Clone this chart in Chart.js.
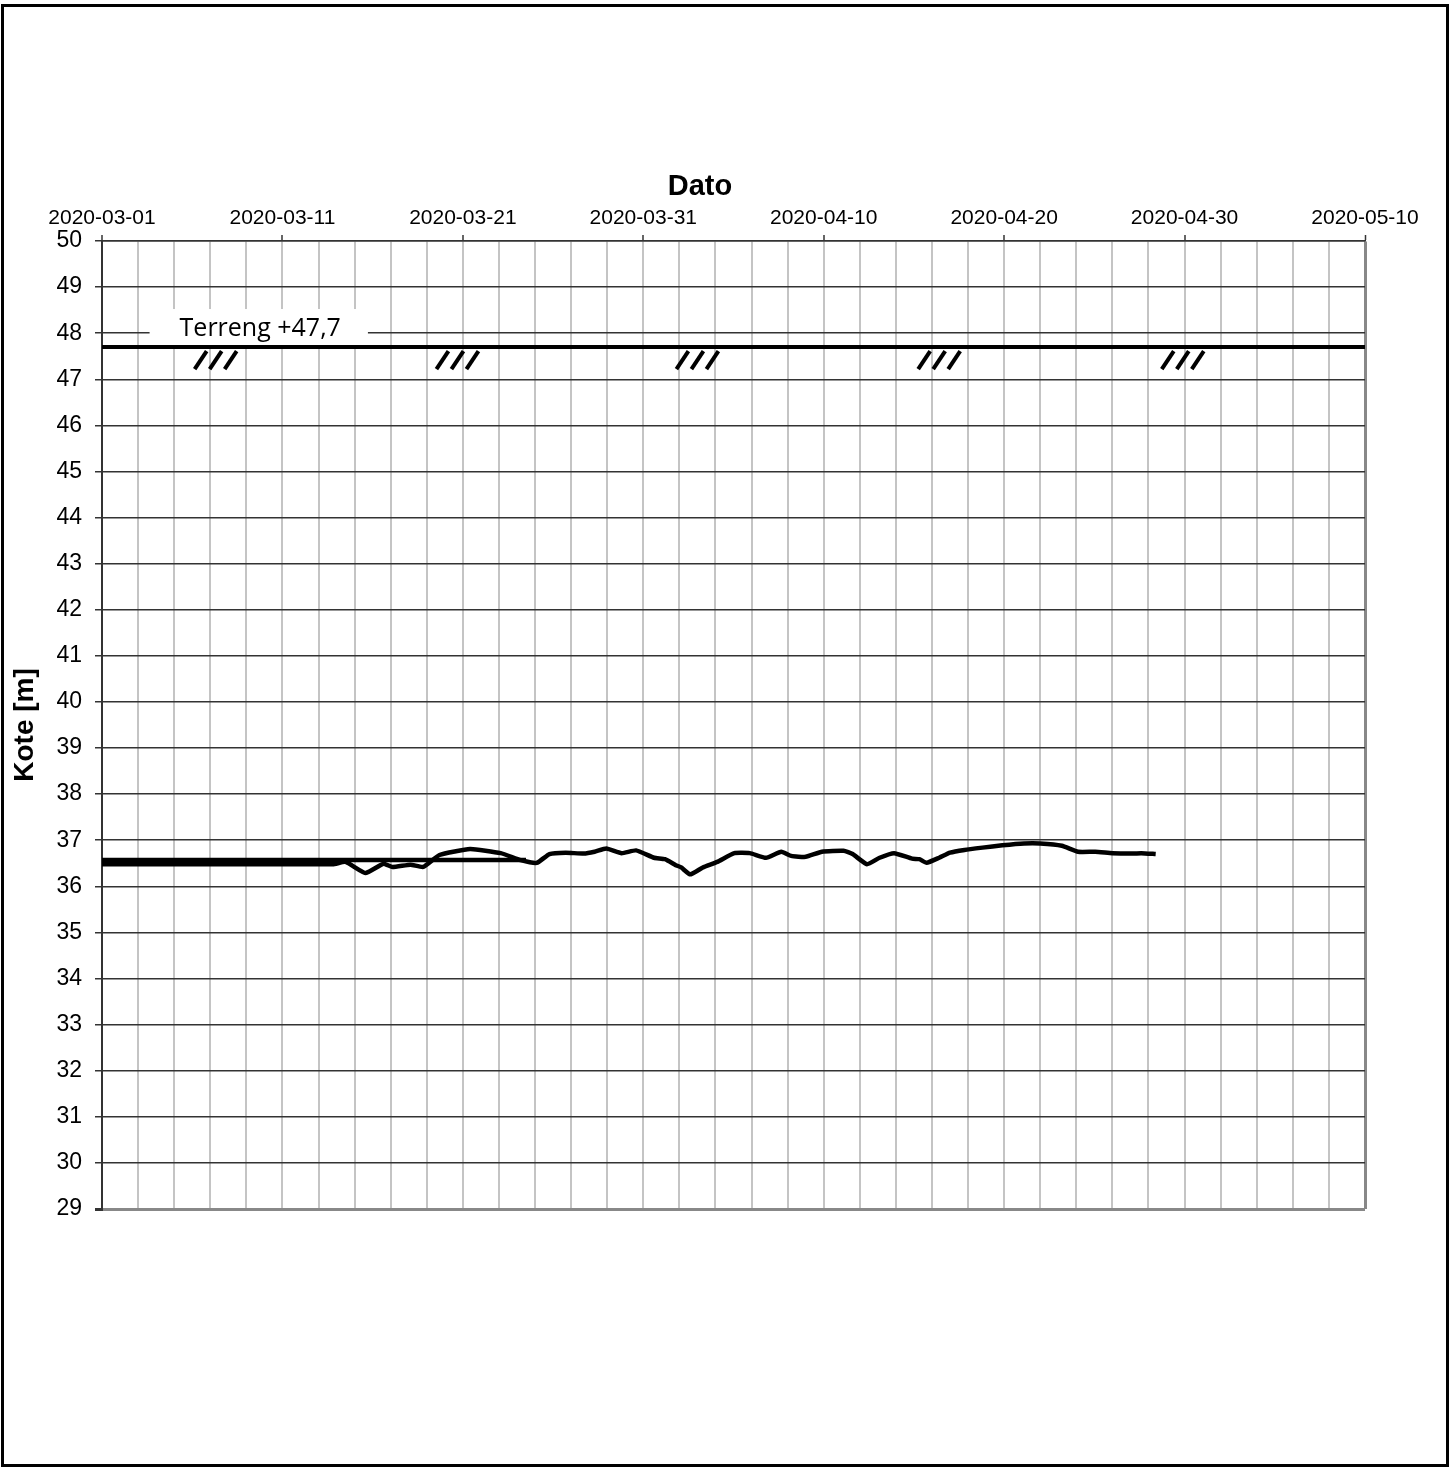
<!DOCTYPE html>
<html lang="no">

<head>
    <meta charset="UTF-8">
    <meta name="viewport" content="width=device-width, initial-scale=1.0">
    <title>Kote</title>
    <script src="https://cdn.jsdelivr.net/npm/chart.js"></script>
    <style>
        body {
            margin: 0;
            background: #fff;
        }

        .wrapper {
            position: relative;
            width: 1450px;
            height: 1468px;
        }

        .frame {
            position: absolute;
            left: 1px;
            top: 4px;
            width: 1448px;
            height: 1463px;
            box-sizing: border-box;
            border: 3px solid #000;
            pointer-events: none;
        }
    </style>
</head>

<body>
    <div class="wrapper">
        <canvas id="koteChart"></canvas>
        <div class="frame"></div>
    </div>

    <script>
        // dager regnet fra 2020-03-01
        const startDate = Date.UTC(2020, 2, 1);
        const xMin = 0;
        const xMax = 70;
        const yMin = 29;
        const yMax = 50;

        const terrainLevel = 47.7;
        const terrainLabel = 'Terreng +47,7';
        const terrainDays = [0, 70];
        const hatchDays = [6.3, 19.7, 33.0, 46.4, 59.9];

        const flatDays = [0, 23.5];
        const flatValues = [36.57, 36.57];

        const measDays = [
            0, 12.8, 13.5, 14.6, 15.6, 16.1, 17.1, 17.8, 18.7, 20.4,
            22.1, 23.2, 24.1, 24.8, 25.7, 26.7, 27.3, 27.95, 28.8, 29.6,
            30.6, 31.2, 31.8, 32.1, 32.6, 33.3, 34.1, 35.05, 35.9, 36.8,
            37.65, 38.2, 39.0, 39.9, 41.1, 41.6, 42.4, 43.1, 43.9, 44.9,
            45.3, 45.7, 46.4, 47.0, 47.8, 48.8, 49.9, 51.1, 52.0, 53.2,
            54.1, 55.05, 56.0, 56.9, 57.6, 58.4
        ];
        const measValues = [
            36.48, 36.48, 36.53, 36.29, 36.49, 36.42, 36.47, 36.42, 36.68, 36.81,
            36.72, 36.57, 36.51, 36.70, 36.73, 36.71, 36.75, 36.82, 36.72, 36.78,
            36.62, 36.59, 36.46, 36.41, 36.26, 36.41, 36.53, 36.72, 36.72, 36.62,
            36.75, 36.66, 36.64, 36.75, 36.77, 36.70, 36.48, 36.62, 36.72, 36.60,
            36.59, 36.51, 36.62, 36.73, 36.79, 36.84, 36.89, 36.93, 36.93, 36.88,
            36.75, 36.75, 36.72, 36.71, 36.72, 36.70
        ];

        function dayLabel(d) {
            return new Date(startDate + d * 86400000).toISOString().slice(0, 10);
        }

        function toPoints(xs, ys) {
            return xs.map((x, i) => ({ x: x, y: ys[i] }));
        }

        const annotationPlugin = {
            id: 'terreng',
            beforeDatasetsDraw(chart) {
                const { ctx, scales } = chart;
                const x0 = scales.x.getPixelForValue(4.3);
                const yT = scales.y.getPixelForValue(terrainLevel);
                ctx.save();
                ctx.font = '25px "Open Sans"';
                const w = ctx.measureText(terrainLabel).width;
                ctx.fillStyle = '#fff';
                ctx.fillRect(x0 - 30, yT - 38, w + 57, 36);
                ctx.fillStyle = '#000';
                ctx.textBaseline = 'alphabetic';
                ctx.fillText(terrainLabel, x0, yT - 11);
                ctx.restore();
            },
            afterDatasetsDraw(chart) {
                const { ctx, scales } = chart;
                const yT = scales.y.getPixelForValue(terrainLevel);
                ctx.save();
                ctx.strokeStyle = '#000';
                ctx.lineWidth = 4;
                hatchDays.forEach(d => {
                    const cx = scales.x.getPixelForValue(d);
                    for (let i = 0; i < 3; i++) {
                        ctx.beginPath();
                        ctx.moveTo(cx - 21 + 15 * i, yT + 22);
                        ctx.lineTo(cx - 9 + 15 * i, yT + 4);
                        ctx.stroke();
                    }
                });
                ctx.restore();
            },
            afterDraw(chart) {
                const { ctx } = chart;
                ctx.save();
                ctx.font = 'bold 29px "Liberation Sans", Arial';
                ctx.fillStyle = '#000';
                ctx.textAlign = 'center';
                ctx.textBaseline = 'alphabetic';
                ctx.fillText('Dato', 700, 195);
                ctx.restore();
            }
        };

        const ctx = document.getElementById('koteChart').getContext('2d');

        const data = {
            datasets: [{
                label: 'Terreng',
                data: toPoints(terrainDays, [terrainLevel, terrainLevel]),
                borderColor: '#000',
                borderWidth: 4,
                pointRadius: 0,
                showLine: true,
            }, {
                label: 'Start',
                data: toPoints(flatDays, flatValues),
                borderColor: '#000',
                borderWidth: 4.5,
                pointRadius: 0,
                showLine: true,
            }, {
                label: 'Kote',
                data: toPoints(measDays, measValues),
                borderColor: '#000',
                borderWidth: 4.5,
                pointRadius: 0,
                showLine: true,
                tension: 0.15,
            }]
        };

        const config = {
            type: 'scatter',
            data: data,
            options: {
                responsive: true,
                maintainAspectRatio: false,
                animation: false,
                layout: {
                    padding: { left: 0, top: 0, right: 85, bottom: 259 }
                },
                plugins: {
                    legend: { display: false },
                    tooltip: { enabled: false }
                },
                scales: {
                    x: {
                        type: 'linear',
                        position: 'top',
                        min: xMin,
                        max: xMax,
                        afterFit: s => { s.height = 241; },
                        ticks: {
                            stepSize: 2,
                            autoSkip: false,
                            maxTicksLimit: 100,
                            maxRotation: 0,
                            padding: 4,
                            color: '#000',
                            font: { family: '"Liberation Sans", Arial', size: 21 },
                            callback: v => (v % 10 === 0 ? dayLabel(v) : '')
                        },
                        grid: {
                            color: c => (c.tick && c.tick.value === xMax ? '#888' : '#c4c4c4'),
                            lineWidth: c => (c.tick && c.tick.value === xMax ? 3 : 2),
                            tickLength: 6,
                            tickColor: c => (c.tick && c.tick.value % 10 === 0 ? '#333' : 'rgba(0,0,0,0)'),
                            tickWidth: 1.5
                        },
                        border: { color: '#333', width: 1.5 }
                    },
                    y: {
                        type: 'linear',
                        min: yMin,
                        max: yMax,
                        afterFit: s => { s.width = 102; },
                        ticks: {
                            stepSize: 1,
                            maxTicksLimit: 100,
                            padding: 13,
                            color: '#000',
                            font: { family: '"Liberation Sans", Arial', size: 23 }
                        },
                        grid: {
                            color: c => (c.tick && c.tick.value === yMin ? '#888' : '#333'),
                            lineWidth: c => (c.tick && c.tick.value === yMin ? 3 : 1.5),
                            tickLength: 7,
                            tickColor: '#333'
                        },
                        border: { color: '#333', width: 2 },
                        title: {
                            display: true,
                            text: 'Kote [m]',
                            color: '#000',
                            font: { family: '"Liberation Sans", Arial', size: 28, weight: 'bold' },
                            padding: { top: 8, bottom: 0 }
                        }
                    }
                }
            },
            plugins: [annotationPlugin]
        };

        new Chart(ctx, config);
    </script>
</body>

</html>
